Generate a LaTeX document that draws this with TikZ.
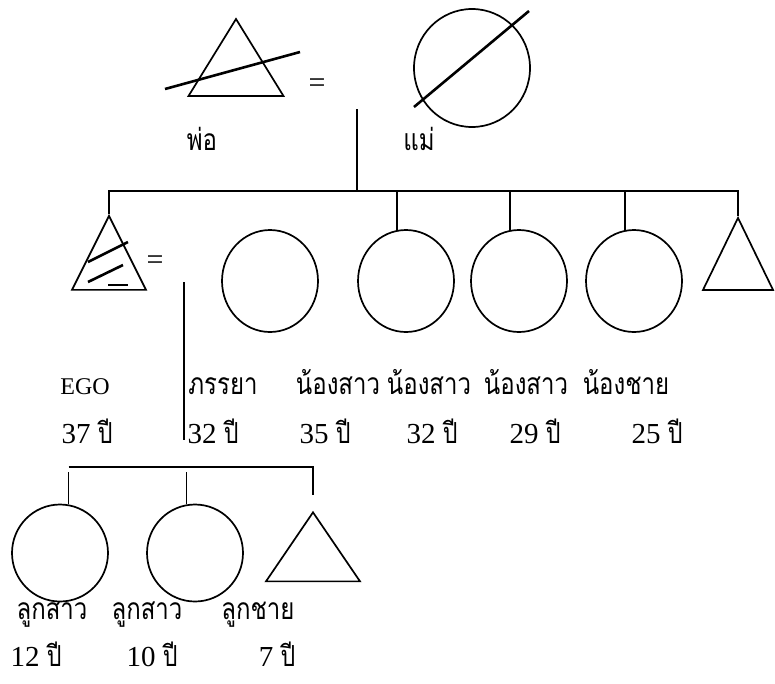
\documentclass[tikz,border=0pt]{standalone}
\usepackage{fontspec}
\setmainfont{Liberation Serif}
\newfontfamily\thai[Script=Thai,FakeStretch=0.8]{Loma}
\usetikzlibrary{shapes.geometric}
\tikzset{
  every picture/.style={line width=1.7pt},
  female/.style={draw, ellipse, inner sep=0pt},
  male/.style={draw, isosceles triangle, isosceles triangle stretches, shape border rotate=90, inner sep=0pt},
  strike/.style={line width=2.6pt},
  eq/.style={inner sep=0pt, font=\fontsize{30}{30}\selectfont},
  lbl/.style={inner sep=0pt, anchor=base, font=\fontsize{29}{32}\selectfont},
  tlbl/.style={lbl, font=\thai\fontsize{30}{34}\selectfont},
}

\begin{document}
\begin{tikzpicture}[x=1pt, y=-1pt]
  \useasboundingbox (0,0) rectangle (775,683);
  % parents
  \node[male, minimum width=95, minimum height=77] (fa) at (236,69.5) {};
  \draw[strike] (165,89) -- (300,52);
  \node[eq] (eqp) at (317,86) {=};
  \node[female, minimum width=116, minimum height=118] (mo) at (472,68) {};
  \draw[strike] (414,107) -- (529,11);
  \node[tlbl] (lfa) at (202,150) {พ่อ};
  \node[tlbl] (lmo) at (419,150) {แม่};
  \coordinate (pm) at (357,109);
  \coordinate (sib) at (357,191);
  \draw (pm) -- (sib);
  % siblings
  \node[male, minimum width=74, minimum height=74] (ego) at (109,267) {};
  \draw[strike] (88,262) -- (128,242);
  \draw[strike] (88,282) -- (123,265);
  \draw[strike] (108,285) -- (128,285);
  \node[eq] (eqe) at (155,263) {=};
  \node[female, minimum width=96, minimum height=102] (wife) at (270,281) {};
  \node[female, minimum width=96, minimum height=102] (s1) at (406,281) {};
  \node[female, minimum width=96, minimum height=102] (s2) at (519,281) {};
  \node[female, minimum width=96, minimum height=102] (s3) at (634,281) {};
  \node[male, minimum width=70, minimum height=72] (br) at (738,268) {};
  \draw (ego.apex) -- (ego.apex |- sib) -- (br.apex |- sib) -- (br.apex);
  \foreach \s in {s1,s2,s3} \draw (\s.100 |- sib) -- (\s.100);
  \node[lbl, font=\fontsize{24}{28}\selectfont] (lego) at (85,394) {EGO};
  \node[tlbl] (lwife) at (223,394) {ภรรยา};
  \node[tlbl] (ls1) at (338,394) {น้องสาว};
  \node[tlbl] (ls2) at (429,394) {น้องสาว};
  \node[tlbl] (ls3) at (526,394) {น้องสาว};
  \node[tlbl] (lbr) at (626,394) {น้องชาย};
  \node[lbl] (aego) at (87,443) {37 {\thai ปี}};
  \node[lbl] (awife) at (213,443) {32 {\thai ปี}};
  \node[lbl] (as1) at (325,443) {35 {\thai ปี}};
  \node[lbl] (as2) at (432,443) {32 {\thai ปี}};
  \node[lbl] (as3) at (535,443) {29 {\thai ปี}};
  \node[lbl] (abr) at (657,443) {25 {\thai ปี}};
  % marriage and children
  \coordinate (mtop) at (184,282);
  \coordinate (mbot) at (184,440);
  \draw (mtop) -- (mbot);
  \coordinate (kids) at (184,467);
  \node[female, minimum width=96, minimum height=97] (k1) at (60,553) {};
  \node[female, minimum width=96, minimum height=97] (k2) at (195,553) {};
  \node[male, minimum width=94, minimum height=69] (k3) at (313,556.5) {};
  \draw[shorten >=15pt] (k1.80 |- kids) -- (k3.apex |- kids) -- (k3.apex);
  \foreach \k in {k1.80,k2.100} \draw[shorten <=5pt] (\k |- kids) -- (\k);
  \node[tlbl] (lk1) at (52,619) {ลูกสาว};
  \node[tlbl] (lk2) at (147,619) {ลูกสาว};
  \node[tlbl] (lk3) at (258,619) {ลูกชาย};
  \node[lbl] (ak1) at (36,666) {12 {\thai ปี}};
  \node[lbl] (ak2) at (152,666) {10 {\thai ปี}};
  \node[lbl] (ak3) at (277,666) {7 {\thai ปี}};
\end{tikzpicture}
\end{document}
